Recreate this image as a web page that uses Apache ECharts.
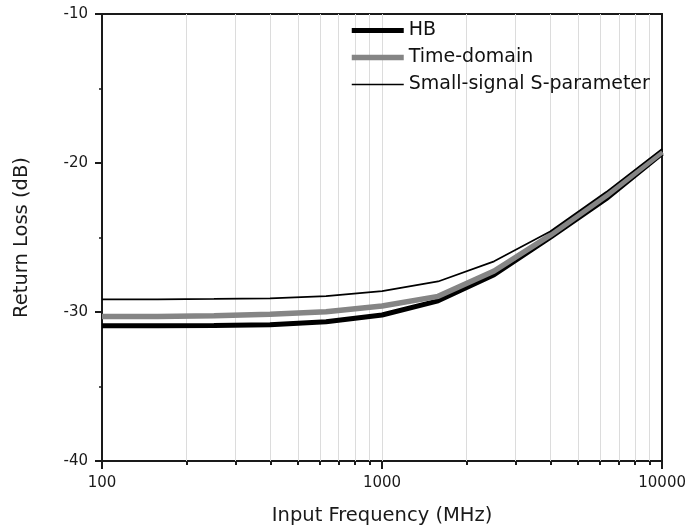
<!DOCTYPE html>
<html>
<head>
<meta charset="utf-8">
<script src="https://cdn.jsdelivr.net/npm/echarts@6/dist/echarts.min.js"></script>
<style>html,body{margin:0;padding:0;background:#fff;}#c{width:689px;height:532px;}</style>
</head>
<body>
<div id="c"></div>
<script>
const freqs = [100, 158, 251, 398, 631, 1000, 1585, 2512, 3981, 6310, 10000];
const hb = [-30.92, -30.92, -30.9, -30.85, -30.65, -30.2, -29.25, -27.5, -25.0, -22.4, -19.35];
const timeDomain = [-30.3, -30.3, -30.25, -30.15, -29.98, -29.6, -28.95, -27.25, -24.85, -22.2, -19.25];
const smallSignal = [-29.15, -29.15, -29.12, -29.08, -28.93, -28.6, -27.95, -26.6, -24.6, -21.95, -19.05];
const seriesNames = ['HB', 'Time-domain', 'Small-signal S-parameter'];
const minorFreqs = [200, 300, 400, 500, 600, 700, 800, 900, 2000, 3000, 4000, 5000, 6000, 7000, 8000, 9000];
const gridFreqs = [200, 300, 400, 500, 600, 700, 800, 900, 1000, 2000, 3000, 4000, 5000, 6000, 7000, 8000, 9000];
const yTicks = [-40, -30, -20, -10];

const FONT = 'DejaVu Sans';
const AX = '#1a1a1a';
const pair = (ys) => freqs.map((f, i) => [f, ys[i]]);
const gridTop = 14, gridBottom = 71, H = 532;
const plotH = H - gridTop - gridBottom;

const chart = echarts.init(document.getElementById('c'), null, {renderer: 'canvas'});
chart.setOption({
  animation: false,
  backgroundColor: '#fff',
  grid: {left: 102, right: 26, top: gridTop, bottom: gridBottom, containLabel: false},
  legend: {
    orient: 'vertical', left: 349, top: 21, padding: 0,
    itemWidth: 52, itemHeight: 14, itemGap: 8,
    itemStyle: {opacity: 0},
    lineStyle: {width: 'inherit'},
    textStyle: {fontFamily: FONT, fontSize: 19, color: '#111'},
    data: seriesNames
  },
  xAxis: [
    {
      type: 'log', logBase: 10, min: 100, max: 10000, position: 'bottom',
      name: 'Input Frequency (MHz)', nameLocation: 'middle', nameGap: 45,
      nameTextStyle: {fontFamily: FONT, fontSize: 19.5, color: AX},
      axisLine: {lineStyle: {color: AX, width: 2}},
      axisTick: {show: true, length: 8, lineStyle: {color: AX, width: 2}},
      axisLabel: {fontFamily: FONT, fontSize: 15, color: AX, margin: 15, formatter: (v) => String(Math.round(v))},
      splitLine: {show: false}, minorTick: {show: false}
    },
    {
      type: 'log', logBase: 10, min: 100, max: 10000, position: 'bottom',
      axisLine: {show: false},
      axisTick: {show: true, customValues: minorFreqs, length: 4, lineStyle: {color: AX, width: 2}},
      axisLabel: {show: false}, splitLine: {show: false}
    },
    {
      type: 'log', logBase: 10, min: 100, max: 10000, position: 'bottom',
      axisLine: {show: false},
      axisTick: {show: true, inside: true, customValues: gridFreqs, length: plotH, lineStyle: {color: '#dcdcdc', width: 1}},
      axisLabel: {show: false}, splitLine: {show: false}
    },
    {
      type: 'log', logBase: 10, min: 100, max: 10000, position: 'top',
      axisLine: {lineStyle: {color: AX, width: 2}},
      axisTick: {show: false}, axisLabel: {show: false}, splitLine: {show: false}
    }
  ],
  yAxis: [
    {
      type: 'value', min: yTicks[0], max: yTicks[yTicks.length - 1], interval: 10, position: 'left',
      name: 'Return Loss (dB)', nameLocation: 'middle', nameGap: 70, nameRotate: 90,
      nameTextStyle: {fontFamily: FONT, fontSize: 19.5, color: AX},
      axisLine: {show: true, lineStyle: {color: AX, width: 2}},
      axisTick: {show: true, length: 7, lineStyle: {color: AX, width: 2}},
      minorTick: {show: true, splitNumber: 2, length: 3, lineStyle: {color: AX, width: 1.5}},
      axisLabel: {fontFamily: FONT, fontSize: 15, color: AX, margin: 14},
      splitLine: {show: false}
    },
    {
      type: 'value', min: yTicks[0], max: yTicks[yTicks.length - 1], position: 'right',
      axisLine: {show: true, lineStyle: {color: AX, width: 2}},
      axisTick: {show: false}, axisLabel: {show: false}, splitLine: {show: false}
    }
  ],
  series: [
    {name: seriesNames[0], type: 'line', data: pair(hb), symbol: 'none', z: 3,
     lineStyle: {color: '#000', width: 5}, itemStyle: {color: '#000'}},
    {name: seriesNames[1], type: 'line', data: pair(timeDomain), symbol: 'none', z: 4,
     lineStyle: {color: '#858585', width: 5.5}, itemStyle: {color: '#858585'}},
    {name: seriesNames[2], type: 'line', data: pair(smallSignal), symbol: 'none', z: 5,
     lineStyle: {color: '#000', width: 1.7}, itemStyle: {color: '#000'}}
  ]
});
</script>
</body>
</html>
